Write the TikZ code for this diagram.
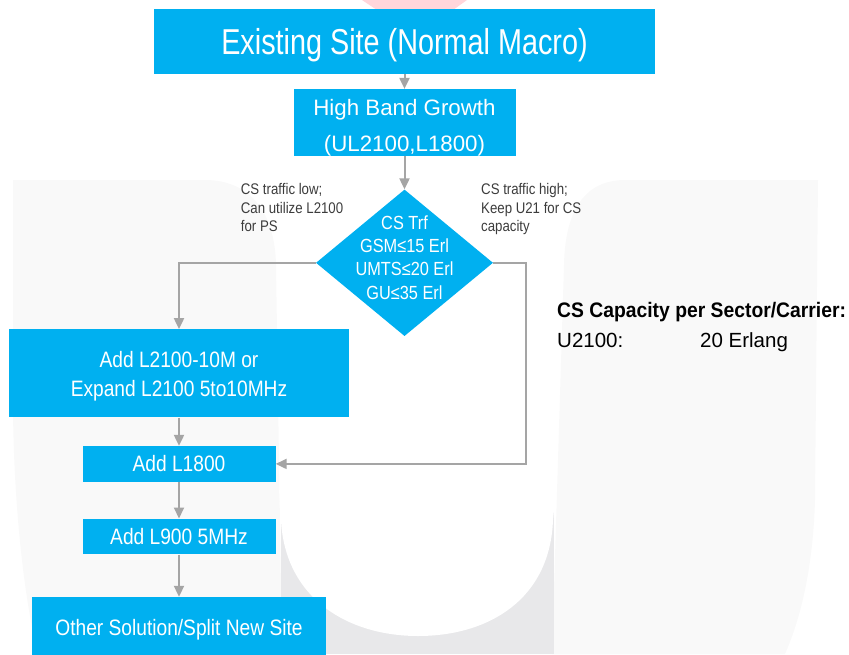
\documentclass[tikz,border=0pt]{standalone}
\usepackage{fontspec}
\setmainfont{Liberation Sans}
\newfontfamily\titlefont[FakeStretch=0.80]{Liberation Sans}
\newfontfamily\boxfont[FakeStretch=0.86]{Liberation Sans}
\newfontfamily\capfont[FakeStretch=0.92]{Liberation Sans}
\usetikzlibrary{shapes.geometric,arrows.meta}
\definecolor{boxblue}{RGB}{0,176,240}
\definecolor{linegray}{RGB}{165,165,165}
\definecolor{notegray}{RGB}{60,60,60}
\definecolor{wmlight}{RGB}{249,249,249}
\definecolor{wmdark}{RGB}{232,232,234}
\definecolor{wmpink}{RGB}{255,214,219}

\begin{document}
\begin{tikzpicture}[x=1pt,y=-1pt,
  box/.style={fill=boxblue, text=white, inner sep=0pt, align=center},
  decision/.style={diamond, fill=boxblue, inner sep=0pt, minimum width=177pt, minimum height=146.5pt},
  flow/.style={draw=linegray, line width=2pt, -{Triangle[width=10pt,length=11pt]}},
  note/.style={inner sep=0pt, anchor=north west, align=left, text=notegray, font=\boxfont\fontsize{15.4}{18.7}\selectfont}]
  \useasboundingbox (0,0) rectangle (849,654);
  \clip (0,0) rectangle (849,654);
  % faint watermark behind the chart
  \fill[wmpink] (362,0) -- (467,0) -- (453,10) -- (377,10) -- cycle;
  \fill[wmlight] (13,180) -- (205,180) .. controls (250,180) and (275,212) .. (276,265) -- (282,654) -- (38,654) .. controls (24,600) and (13,500) .. (13,400) -- cycle;
  \fill[wmlight] (552,654) -- (564,265) .. controls (565,210) and (585,180) .. (625,180) -- (818,180) -- (815,500) .. controls (813,570) and (800,620) .. (785,654) -- cycle;
  \fill[wmdark] (281,495) rectangle (554,654);
  \fill[white] (279,490) -- (281,520) .. controls (285,600) and (350,636) .. (418,636) .. controls (488,636) and (550,600) .. (553,520) -- (556,490) -- cycle;

  % chart
  \node[box, minimum width=501pt, minimum height=65pt, text depth=0pt, font=\titlefont\fontsize{36}{40}\selectfont] (site) at (404.5,41.5) {Existing Site (Normal Macro)};
  \node[box, minimum width=222pt, minimum height=66pt, font=\fontsize{22.3}{36}\selectfont] (growth) at (404.5,122.4) {\rule{0pt}{26pt}High Band Growth\\(UL2100,L1800)};
  \node[decision] (dia) at (404.5,262.8) {};
  \node[inner sep=0pt, align=center, text=white, font=\boxfont\fontsize{19}{23.3}\selectfont] (diatxt) at (404.5,257.5) {CS Trf\\GSM≤15 Erl\\UMTS≤20 Erl\\GU≤35 Erl};
  \node[box, minimum width=340pt, minimum height=88pt, font=\boxfont\fontsize{22.3}{28.3}\selectfont] (add21) at (179,373.3) {\rule{0pt}{21.8pt}Add L2100-10M or\\Expand L2100 5to10MHz};
  \node[box, minimum width=193pt, minimum height=35.7pt, font=\boxfont\fontsize{22.3}{28.3}\selectfont] (add18) at (179,463.9) {Add L1800};
  \node[box, minimum width=193pt, minimum height=35.6pt, font=\boxfont\fontsize{22.3}{28.3}\selectfont] (add9) at (179,536.5) {Add L900 5MHz};
  \node[box, minimum width=294.3pt, minimum height=66.4pt, font=\boxfont\fontsize{22.3}{28.3}\selectfont] (newsite) at (179,630.2) {Other Solution/Split New Site};

  \node[note] (lownote) at (240.7,183.1) {CS traffic low;\\Can utilize L2100\\for PS};
  \node[note] (highnote) at (481,183.1) {CS traffic high;\\Keep U21 for CS\\capacity};
  \node[inner sep=0pt, anchor=north west, align=left, font=\fontsize{20.5}{30}\selectfont] (capinfo) at (557,302) {{\capfont\bfseries\fontsize{21}{30}\selectfont CS Capacity per Sector/Carrier:}\\\makebox[143pt][l]{U2100:}20 Erlang};

  \draw[flow] (site) -- (growth);
  \draw[flow] (growth) -- (dia);
  \draw[flow] (dia.west) -| (add21.north);
  \draw[flow] (dia.east) -- ++(33,0) |- (add18.east);
  \draw[flow] (add21) -- (add18);
  \draw[flow] (add18) -- (add9);
  \draw[flow] (add9) -- (newsite);
\end{tikzpicture}
\end{document}
